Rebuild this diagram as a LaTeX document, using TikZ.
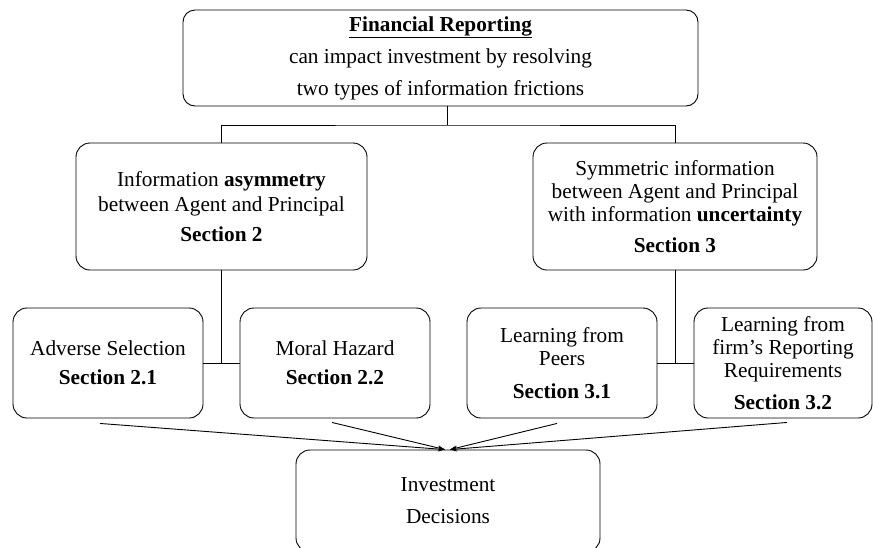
\documentclass[tikz,border=0pt]{standalone}
\usepackage{fontspec}
\setmainfont{Liberation Serif}
\usepackage{tikz}
\usetikzlibrary{arrows.meta, calc}

\begin{document}
\begin{tikzpicture}[x=1pt, y=-1pt, >={Stealth[length=7pt,width=5pt]},
    font=\fontsize{21.3}{23}\selectfont,
    box/.style={draw, line width=0.9pt, rounded corners=14pt, align=center,
        inner sep=0pt},
    link/.style={line width=0.9pt}]
    \useasboundingbox (0,0) rectangle (873,547);
    \clip (0,0) rectangle (873,547);

    % Top box
    \node[box, rounded corners=12pt, minimum width=515pt, minimum height=96pt] (top) at (440.5,58)
        {\underline{\textbf{Financial Reporting}}\\[9pt]
         can impact investment by resolving\\[9pt]
         two types of information frictions};

    % Two kinds of frictions
    \node[box, minimum width=291pt, minimum height=127pt] (asym) at (221.5,206.5)
        {Information \textbf{asymmetry}\\[2pt]
         between Agent and Principal\\[7pt]
         \textbf{Section 2}};
    \node[box, minimum width=284pt, minimum height=127pt] (symm) at (675,206.5)
        {Symmetric information\\
         between Agent and Principal\\
         with information \textbf{uncertainty}\\[8pt]
         \textbf{Section 3}};

    % Sub-sections
    \node[box, minimum width=190pt, minimum height=110pt] (adverse) at (108,363)
        {Adverse Selection\\[6pt] \textbf{Section 2.1}};
    \node[box, minimum width=190pt, minimum height=110pt] (moral) at (335,363)
        {Moral Hazard\\[6pt] \textbf{Section 2.2}};
    \node[box, minimum width=190pt, minimum height=110pt] (peers) at (562,363)
        {Learning from\\ Peers\\[10pt] \textbf{Section 3.1}};
    \node[box, minimum width=178pt, minimum height=110pt] (firm) at (783,363)
        {Learning from\\ firm's Reporting\\ Requirements\\[9pt] \textbf{Section 3.2}};

    % Outcome
    \node[box, minimum width=304pt, minimum height=102pt] (invest) at (448,501)
        {Investment\\[9pt] Decisions};

    % Tree lines
    \coordinate (split) at (447,125);
    \draw[link] (split |- top.south) -- (split);
    \draw[link] (asym.north) |- (split) -| (symm.north);
    \draw[link] (asym.south) -- (asym.south |- adverse.east);
    \draw[link] (adverse.east) -- (moral.west);
    \draw[link] (symm.south) -- (symm.south |- peers.east);
    \draw[link] (peers.east) -- (firm.west);

    % Arrows into the decision box
    \draw[link, ->] ([xshift=-8pt,yshift=-5pt]adverse.south) -- ([xshift=-3pt]invest.north);
    \draw[link, ->] ([xshift=-3pt,yshift=-4pt]moral.south) -- ([xshift=-3pt]invest.north);
    \draw[link, ->] ([xshift=-5pt,yshift=-5pt]peers.south) -- ([xshift=2pt]invest.north);
    \draw[link, ->] ([xshift=4pt,yshift=-4pt]firm.south) -- ([xshift=2pt]invest.north);
\end{tikzpicture}
\end{document}
